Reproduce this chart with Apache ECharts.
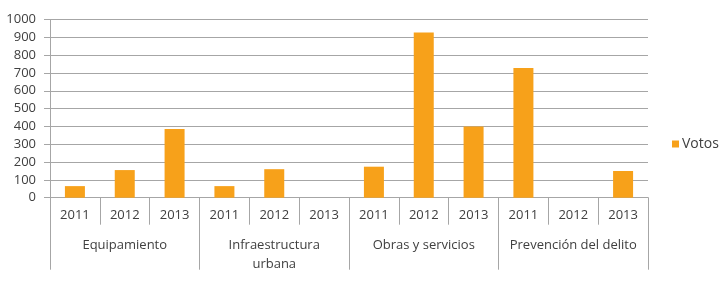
<!DOCTYPE html>
<html>
<head>
<meta charset="utf-8">
<script src="https://cdn.jsdelivr.net/npm/echarts@6/dist/echarts.min.js"></script>
<style>
  html, body { margin: 0; padding: 0; background: #fff; }
  #chart { width: 726px; height: 284px; }
</style>
</head>
<body>
<div id="chart"></div>
<script>
// data
const groups = ['Equipamiento', 'Infraestructura\nurbana', 'Obras y servicios', 'Prevención del delito']
const years = ['2011', '2012', '2013']
const votos = [
  65, 155, 385,
  65, 160, 0,
  174, 927, 400,
  728, 0, 150
]
const yTicks = { min: 0, max: 1000, step: 100 }

// one year label per bar, groups repeat the year list
const yearLabels = []
groups.forEach(() => years.forEach(y => yearLabels.push(y)))

const grey = '#a6a6a6'
const textColor = '#404040'
const font = 'Open Sans'

const chart = echarts.init(document.getElementById('chart'))
chart.setOption({
  animation: false,
  textStyle: { fontFamily: font },
  legend: {
    data: ['Votos'],
    orient: 'vertical',
    left: 667,
    top: 132,
    icon: 'rect',
    itemWidth: 7,
    itemHeight: 7,
    itemGap: 4,
    textStyle: { fontSize: 14, color: textColor, fontFamily: font, padding: [0, 0, 0, -2] }
  },
  grid: { left: 50, right: 78, top: 19.5, bottom: 86.3, containLabel: false },
  xAxis: [
    {
      type: 'category',
      data: yearLabels,
      position: 'bottom',
      axisLine: { lineStyle: { color: grey, width: 1 } },
      axisTick: { show: true, alignWithLabel: false, length: 27, lineStyle: { color: grey } },
      axisLabel: { margin: 11, fontSize: 13, color: textColor, fontFamily: font, interval: 0 },
      splitLine: { show: false }
    },
    {
      type: 'category',
      data: groups,
      position: 'bottom',
      axisLine: { show: false },
      axisTick: { show: true, alignWithLabel: false, length: 72, lineStyle: { color: grey } },
      axisLabel: { margin: 38, fontSize: 13, lineHeight: 19, color: textColor, fontFamily: font, interval: 0 },
      splitLine: { show: false }
    }
  ],
  yAxis: {
    type: 'value',
    min: yTicks.min,
    max: yTicks.max,
    interval: yTicks.step,
    axisLine: { show: true, lineStyle: { color: grey } },
    axisTick: { show: true, length: 6, lineStyle: { color: grey } },
    axisLabel: { margin: 14, fontSize: 13, color: textColor, fontFamily: font, formatter: v => String(v) },
    splitLine: { lineStyle: { color: grey, width: 1 } }
  },
  series: [
    {
      name: 'Votos',
      type: 'bar',
      xAxisIndex: 0,
      data: votos,
      barWidth: 20,
      itemStyle: { color: '#f7a11a' }
    }
  ]
})
</script>
</body>
</html>
